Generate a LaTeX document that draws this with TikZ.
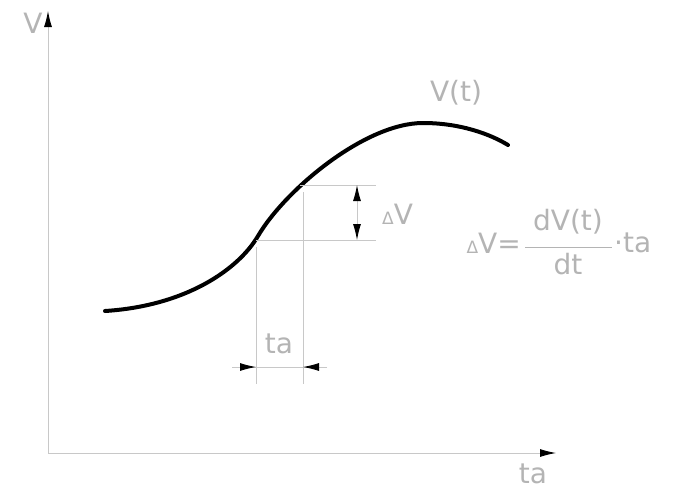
\documentclass[tikz,border=0pt]{standalone}
\usepackage{fontspec}
\setmainfont{DejaVu Sans}
\usetikzlibrary{arrows.meta}
\definecolor{txt}{RGB}{180,180,180}
\definecolor{ln}{RGB}{200,200,200}
\begin{document}
\begin{tikzpicture}[x=1pt,y=-1pt,
  lbl/.style={text=txt,inner sep=0pt,font=\fontsize{28}{32}\selectfont},
  thin line/.style={draw=ln,line width=0.9pt},
  tip/.style={-{Latex[length=16pt,width=8pt,black]}},
  dtip/.style={{Latex[length=16pt,width=8pt,black]}-{Latex[length=16pt,width=8pt,black]}}]
\useasboundingbox (0,0) rectangle (680,490);
% axes
\coordinate (O) at (48,453);
\coordinate (Ytop) at (48,11);
\coordinate (Xend) at (556,453);
\draw[thin line,tip] (O) -- (Ytop);
\draw[thin line,tip] (O) -- (Xend);
\node[lbl] (vlab) at (33,23) {V};
\node[lbl] (talab) at (533,474) {ta};
% curve
\coordinate (c0) at (105,311);
\coordinate (c1) at (258,236);
\coordinate (c2) at (423,123);
\coordinate (c3) at (508,145);
\draw[line width=4pt,line cap=round]
  (c0) .. controls (185,306) and (238,270) .. (c1)
       .. controls (285,190) and (365,123) .. (c2)
       .. controls (460,123) and (490,134) .. (c3);
\node[lbl] (vt) at (456,93) {V(t)};
% extension lines
\coordinate (h1a) at (300,185); \coordinate (h1b) at (376,185);
\coordinate (h2a) at (256,240); \coordinate (h2b) at (376,240);
\draw[thin line] (h1a) -- (h1b);
\draw[thin line] (h2a) -- (h2b);
\coordinate (v1a) at (256,247); \coordinate (v1b) at (256,384);
\coordinate (v2a) at (303,192); \coordinate (v2b) at (303,384);
\draw[thin line] (v1a) -- (v1b);
\draw[thin line] (v2a) -- (v2b);
% delta V dimension
\coordinate (dv1) at (357,185); \coordinate (dv2) at (357,240);
\draw[thin line,dtip] (dv1) -- (dv2);
\node[lbl,anchor=west] (dvlab) at (382,214) {{\fontsize{17}{17}\selectfont Δ}V};
% ta dimension
\coordinate (ta1) at (232,367); \coordinate (ta1t) at (256,367);
\coordinate (ta2) at (327,367); \coordinate (ta2t) at (303,367);
\draw[thin line] (ta1) -- (ta2);
\draw[thin line,tip] (ta1) -- (ta1t);
\draw[thin line,tip] (ta2) -- (ta2t);
\node[lbl] (talab2) at (279,344) {ta};
% formula
\node[lbl,anchor=east] (f1) at (521,243) {{\fontsize{17}{17}\selectfont Δ}V=};
\node[lbl] (fnum) at (568,222) {dV(t)};
\coordinate (bar1) at (525,247); \coordinate (bar2) at (612,247);
\draw[draw=txt,line width=0.9pt] (bar1) -- (bar2);
\node[lbl] (fden) at (568,264) {dt};
\node[lbl,anchor=west] (f2) at (614,243) {·ta};
\end{tikzpicture}
\end{document}
